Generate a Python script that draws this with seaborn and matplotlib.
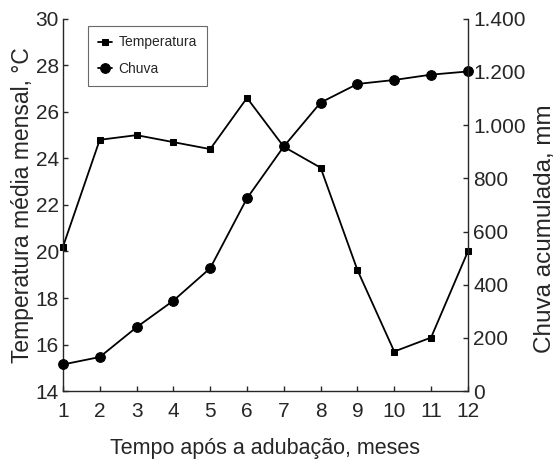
import matplotlib
matplotlib.use("Agg")
import matplotlib.pyplot as plt
import seaborn as sns
import pandas as pd

# Data
meses = [1, 2, 3, 4, 5, 6, 7, 8, 9, 10, 11, 12]
temperatura = [20.2, 24.8, 25.0, 24.7, 24.4, 26.6, 24.5, 23.6, 19.2, 15.7, 16.3, 20.0]
chuva = [100, 128, 240, 340, 462, 725, 920, 1085, 1155, 1170, 1190, 1202]

temp_ticks = [14, 16, 18, 20, 22, 24, 26, 28, 30]
chuva_ticks = [0, 200, 400, 600, 800, 1000, 1200, 1400]
chuva_labels = ["0", "200", "400", "600", "800", "1.000", "1.200", "1.400"]

df = pd.DataFrame({"mes": meses, "temperatura": temperatura, "chuva": chuva})

sns.set_style("ticks")
plt.rcParams["font.family"] = ["Liberation Sans", "DejaVu Sans"]

fig = plt.figure(figsize=(5.57, 4.59), dpi=100)
ax = fig.add_axes([0.113, 0.148, 0.727, 0.811])
ax2 = ax.twinx()

# Temperature (left axis)
sns.lineplot(data=df, x="mes", y="temperatura", ax=ax, color="black", lw=1.3,
             marker="s", markersize=4.5, markeredgecolor="black", label="Temperatura",
             legend=False, clip_on=False)
# Rain (right axis)
sns.lineplot(data=df, x="mes", y="chuva", ax=ax2, color="black", lw=1.3,
             marker="o", markersize=7, markeredgecolor="black", label="Chuva",
             legend=False, clip_on=False)

ax.set_xlim(1, 12)
ax.set_ylim(14, 30)
ax2.set_ylim(0, 1400)
ax.set_xticks(meses)
ax.set_yticks(temp_ticks)
ax2.set_yticks(chuva_ticks)
ax2.set_yticklabels(chuva_labels)

for a in (ax, ax2):
    a.spines["top"].set_visible(False)
    for s in ("left", "right", "bottom"):
        a.spines[s].set_linewidth(1.0)
    a.tick_params(direction="in", length=3.6, width=1.0, labelsize=15)
ax.spines["right"].set_visible(False)
ax2.spines["left"].set_visible(False)
ax2.spines["bottom"].set_visible(False)
ax.tick_params(axis="y", pad=3)
ax.tick_params(axis="x", pad=8)
ax2.tick_params(axis="y", pad=4)

ax.set_xlabel("Tempo após a adubação, meses", fontsize=15.5, labelpad=12)
ax.set_ylabel("Temperatura média mensal, °C", fontsize=16.5, labelpad=1)
ax2.set_ylabel("Chuva acumulada, mm", fontsize=17.5)
ax2.yaxis.set_label_coords(1.163, 0.435)

h1, l1 = ax.get_legend_handles_labels()
h2, l2 = ax2.get_legend_handles_labels()
leg = ax.legend(h1 + h2, l1 + l2, loc="upper left", bbox_to_anchor=(0.045, 1.0),
                fontsize=10, frameon=True, fancybox=False, handlelength=1.0,
                handletextpad=0.5, borderpad=0.7, labelspacing=0.9)
leg.get_frame().set_edgecolor("#444444")
leg.get_frame().set_linewidth(0.8)

fig.savefig("out.png", dpi=100)
